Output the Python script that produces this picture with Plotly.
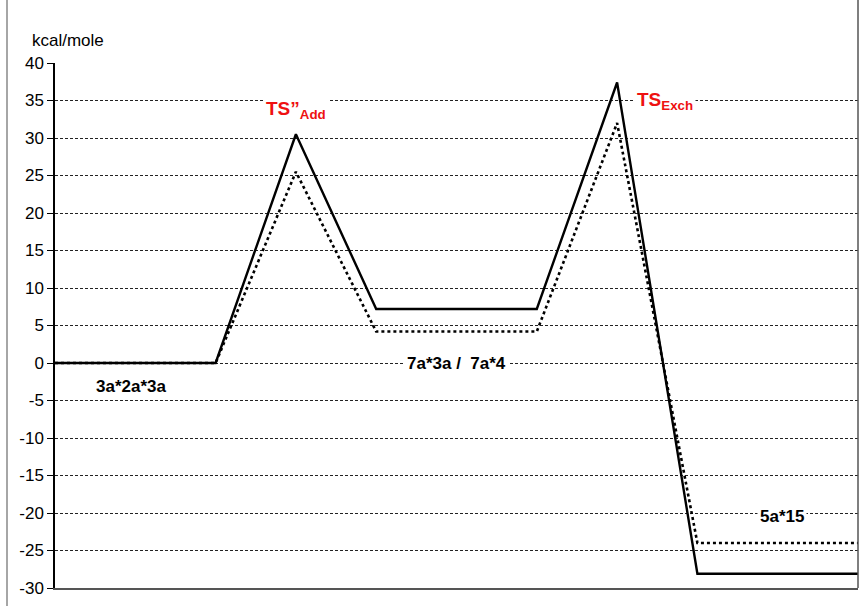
import plotly.graph_objects as go

# Reaction-coordinate positions of each stationary point
stage = [0, 2, 3, 4, 6, 7, 8, 10]
# Relative energies (kcal/mole)
energy_solid = [0, 0, 30.5, 7.2, 7.2, 37.4, -28.1, -28.1]
energy_dotted = [0, 0, 25.5, 4.2, 4.2, 32.0, -24.0, -24.0]

y_ticks = list(range(-30, 45, 5))

fig = go.Figure()
fig.add_trace(go.Scatter(x=stage, y=energy_dotted, mode="lines",
                         line=dict(color="black", width=2.6, dash="dot"),
                         showlegend=False, hoverinfo="skip"))
fig.add_trace(go.Scatter(x=stage, y=energy_solid, mode="lines",
                         line=dict(color="black", width=2.4),
                         showlegend=False, hoverinfo="skip"))

font_main = "Liberation Sans, Arial, sans-serif"

annotations = [
    dict(x=3, y=33.8, text="<b>TS”<sub>Add</sub></b>", font=dict(color="#ee1111", size=19)),
    dict(x=7.6, y=35.0, text="<b>TS<sub>Exch</sub></b>", font=dict(color="#ee1111", size=19)),
    dict(x=0.95, y=-3.1, text="<b>3a*2a*3a</b>", font=dict(color="black", size=17)),
    dict(x=5.0, y=0, text="<b>7a*3a /  7a*4</b>", font=dict(color="black", size=17)),
    dict(x=9.05, y=-20.5, text="<b>5a*15</b>", font=dict(color="black", size=17)),
]
for a in annotations:
    a.update(xref="x", yref="y", showarrow=False, bgcolor="white", borderpad=2)
    a["font"]["family"] = font_main
    fig.add_annotation(**a)

# axis unit caption above the value axis
fig.add_annotation(x=(30 - 55) / 803, y=1 + (63 - 40) / 525, xref="paper", yref="paper",
                   xanchor="left", yanchor="middle", text="kcal/mole", showarrow=False,
                   font=dict(family=font_main, size=17, color="black"))

# outer frame edges
fig.add_shape(type="line", xref="paper", yref="paper", x0=-48 / 803, x1=-48 / 803, y0=-0.2, y1=1.2,
              line=dict(color="#888888", width=1.5))
fig.add_shape(type="line", xref="paper", yref="paper", x0=1.0, x1=1.0, y0=0, y1=1.2,
              line=dict(color="#555555", width=1.5))

fig.update_layout(
    width=862, height=606,
    margin=dict(l=55, r=4, t=63, b=18),
    paper_bgcolor="white", plot_bgcolor="white",
    font=dict(family=font_main, size=17, color="black"),
    xaxis=dict(range=[0, 10], showgrid=False, zeroline=False, showticklabels=False,
               ticks="", showline=True, linecolor="#555555", linewidth=1.5),
    yaxis=dict(range=[-30, 40], tickvals=y_ticks, ticktext=[str(v) for v in y_ticks],
               showgrid=True, gridcolor="#222222", gridwidth=1, griddash="3px,2px",
               zeroline=False, showline=True, linecolor="black", linewidth=1.5,
               ticks="outside", ticklen=6, tickcolor="black",
               tickfont=dict(family=font_main, size=17, color="black")),
)

fig.write_html("out.html")
